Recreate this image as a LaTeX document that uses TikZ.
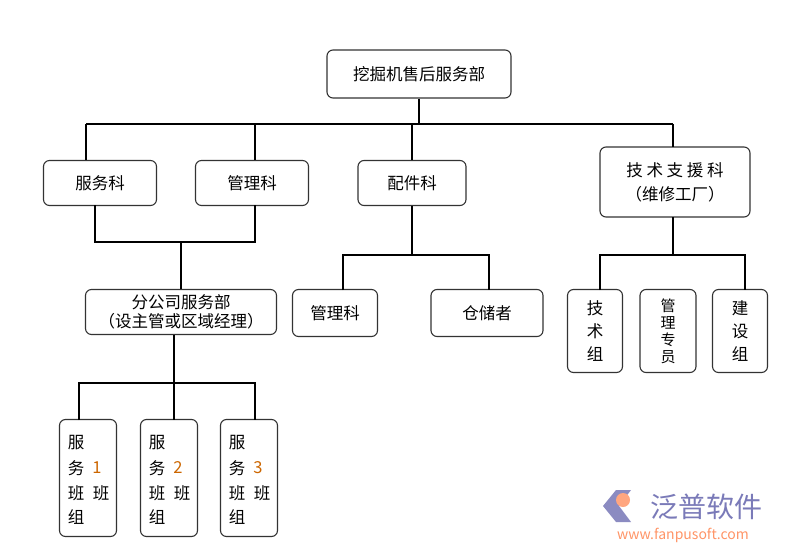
\documentclass[tikz,border=0pt]{standalone}
\usepackage{fontspec}
\setmainfont{Noto Sans CJK SC}
\usetikzlibrary{positioning}
\tikzset{
  box/.style={draw=black!80, line width=1.1pt, rounded corners=6pt, inner sep=0pt, font=\fontsize{16.5}{21}\selectfont},
  link/.style={line width=1.1pt},
  ch/.style={inner sep=0pt, font=\fontsize{16.5}{16.5}\selectfont},
}
\begin{document}
\begin{tikzpicture}[x=1pt,y=-1pt]
        \useasboundingbox (0,0) rectangle (800,559);
        \node [box, minimum width=184pt, minimum height=48pt] (top) at (419,74) {挖掘机售后服务部};
        \node [box, minimum width=113pt, minimum height=45pt] (fwk) at (100,183) {服务科};
        \node [box, minimum width=113pt, minimum height=45pt] (glk) at (252,183) {管理科};
        \node [box, minimum width=108pt, minimum height=45pt] (pjk) at (412,183) {配件科};
        \node [box, minimum width=150pt, minimum height=70pt, align=center, font=\fontsize{16.5}{24}\selectfont] (jszy) at (675,182) {技 术 支 援 科\\（维修工厂）};
        \node [box, minimum width=191pt, minimum height=45pt, align=center, font=\fontsize{16.5}{19}\selectfont] (fgs) at (181,312) {分公司服务部\\（设主管或区域经理）};
        \node [box, minimum width=85pt, minimum height=47pt] (glk2) at (335,313) {管理科};
        \node [box, minimum width=112pt, minimum height=47pt] (ccz) at (487,313) {仓储者};
        \node [box, minimum width=55pt, minimum height=83pt, align=center, font=\fontsize{16.5}{23}\selectfont] (jsz) at (595,331) {技\\术\\组};
        \node [box, minimum width=56pt, minimum height=83pt, align=center, font=\fontsize{15}{17}\selectfont] (glzy) at (668,331) {管\\理\\专\\员};
        \node [box, minimum width=55pt, minimum height=83pt, align=center, font=\fontsize{16.5}{23}\selectfont] (jsz2) at (740,331) {建\\设\\组};
        % bottom teams
        \foreach \n/\x in {1/88, 2/169, 3/249} {
          \node [box, minimum width=57pt, minimum height=117pt] (bz\n) at (\x,478) {};
          \node [ch] at (\x-12,443) {服};
          \node [ch] at (\x-12,468) {务};
          \node [ch] at (\x-12,493) {班};
          \node [ch] at (\x-12,517) {组};
          \node [ch, text=orange!80!black] at (\x+9,468) {\n};
          \node [ch] at (\x+13,493) {班};
        }
        % connectors
        \draw [link] (top.south) -- (419,124);
        \draw [link] (86,124) -- (673,124);
        \draw [link] (86,124) -- (86,160);
        \draw [link] (255,124) -- (255,160);
        \draw [link] (412,124) -- (pjk.north);
        \draw [link] (673,124) -- (673,147);
        \draw [link] (95,205) -- (95,242) -- (255,242) -- (255,205);
        \draw [link] (181,242) -- (fgs.north);
        \draw [link] (pjk.south) -- (412,255);
        \draw [link] (343,290) -- (343,255) -- (489,255) -- (489,290);
        \draw [link] (673,217) -- (673,255);
        \draw [link] (600,290) -- (600,255) -- (745,255) -- (745,290);
        \draw [link] (174,335) -- (174,383);
        \draw [link] (79,420) -- (79,383) -- (255,383) -- (255,420);
        \draw [link] (174,383) -- (174,420);
        % logo
        \fill [blue!30!gray!70] (603,506) -- (616,490) -- (631,490) -- (619,506) -- (631,522) -- (616,522) -- cycle;
        \fill [orange!60!red!50] (623,500) circle (7pt);
        \node [inner sep=0pt, text=blue!30!gray!80, font=\fontsize{28}{28}\selectfont] (logo) at (706,507) {泛普软件};
        \node [inner sep=0pt, text=orange!60!red!60, font=\fontsize{14}{14}\selectfont\rmfamily] at (683,535) {www.fanpusoft.com};
\end{tikzpicture}
\end{document}
